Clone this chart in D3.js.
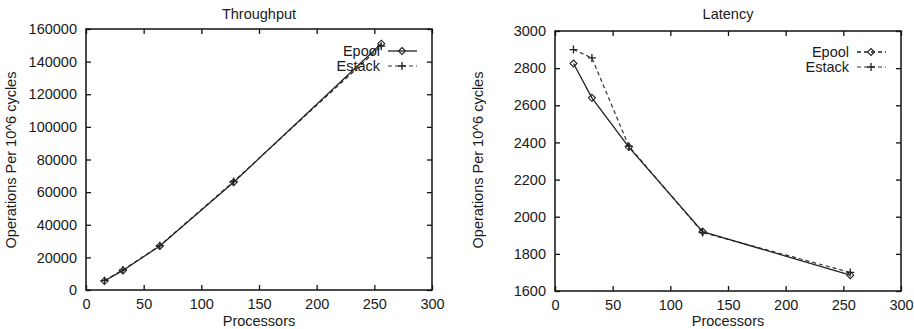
<!DOCTYPE html>
<html>
<head>
<meta charset="utf-8">
<script src="https://cdn.jsdelivr.net/npm/d3@7"></script>
<style>
  body { margin: 0; background: #fff; }
  svg text { font-family: "Liberation Sans", Arial, sans-serif; fill: #1a1a1a; }
</style>
</head>
<body>
<div id="chart"></div>
<script>
var processors = [16, 32, 64, 128, 256];
var tputEpool = [5500, 12000, 27000, 66000, 151000];
var tputEstack = [5800, 12300, 27200, 66500, 149500];
var latEpool = [2825, 2640, 2375, 1920, 1685];
var latEstack = [2900, 2855, 2380, 1915, 1700];

var xTicks = [0, 50, 100, 150, 200, 250, 300];
var tputTicks = [0, 20000, 40000, 60000, 80000, 100000, 120000, 140000, 160000];
var latTicks = [1600, 1800, 2000, 2200, 2400, 2600, 2800, 3000];

var w = 914, h = 329;
var svg = d3.select("#chart").append("svg")
  .attr("width", w)
  .attr("height", h);

function diamond(g, x, y) {
  g.append("path")
    .attr("d", "M" + x + "," + (y - 3.5) + "L" + (x + 3.5) + "," + y + "L" + x + "," + (y + 3.5) + "L" + (x - 3.5) + "," + y + "Z")
    .attr("fill", "none").attr("stroke", "#222").attr("stroke-width", 1.1);
}
function plus(g, x, y) {
  g.append("path")
    .attr("d", "M" + (x - 4) + "," + y + "H" + (x + 4) + "M" + x + "," + (y - 4) + "V" + (y + 4))
    .attr("stroke", "#222").attr("stroke-width", 1.3);
}

function panel(opt) {
  var g = svg.append("g");
  var x = d3.scaleLinear().domain([0, 300]).range([opt.left, opt.right]);
  var y = d3.scaleLinear().domain(opt.ydomain).range([opt.bottom, opt.top]);

  // frame
  g.append("rect")
    .attr("x", opt.left).attr("y", opt.top)
    .attr("width", opt.right - opt.left).attr("height", opt.bottom - opt.top)
    .attr("fill", "none").attr("stroke", "#111").attr("stroke-width", 1.5);

  // ticks inward, mirrored
  var xb = d3.axisBottom(x).tickValues(xTicks).tickSizeInner(-5).tickSizeOuter(0).tickPadding(9).tickFormat(d3.format("d"));
  var gx = g.append("g").attr("transform", "translate(0," + opt.bottom + ")").call(xb);
  var xt = d3.axisTop(x).tickValues(xTicks).tickSizeInner(-5).tickSizeOuter(0).tickFormat("");
  var gxt = g.append("g").attr("transform", "translate(0," + opt.top + ")").call(xt);
  var yl = d3.axisLeft(y).tickValues(opt.yticks).tickSizeInner(-5).tickSizeOuter(0).tickPadding(9).tickFormat(d3.format("d"));
  var gy = g.append("g").attr("transform", "translate(" + opt.left + ",0)").call(yl);
  var yr = d3.axisRight(y).tickValues(opt.yticks).tickSizeInner(-5).tickSizeOuter(0).tickFormat("");
  var gyr = g.append("g").attr("transform", "translate(" + opt.right + ",0)").call(yr);
  [gx, gxt, gy, gyr].forEach(function (a) {
    a.select(".domain").remove();
    a.selectAll("line").attr("stroke", "#111").attr("stroke-width", 1.3);
    a.selectAll("text").attr("font-size", 14.5).attr("font-family", "Liberation Sans, Arial, sans-serif").attr("fill", "#1a1a1a");
  });

  // title and labels
  g.append("text").attr("x", (opt.left + opt.right) / 2).attr("y", 19)
    .attr("text-anchor", "middle").attr("font-size", 14.5).text(opt.title);
  g.append("text").attr("x", (opt.left + opt.right) / 2).attr("y", 326)
    .attr("text-anchor", "middle").attr("font-size", 14.5).text("Processors");
  g.append("text")
    .attr("transform", "translate(" + opt.ylabelX + "," + 160 + ") rotate(-90)")
    .attr("text-anchor", "middle").attr("font-size", 14.5).text("Operations Per 10^6 cycles");

  var line = d3.line()
    .x(function (d) { return x(d[0]); })
    .y(function (d) { return y(d[1]); });

  var s1 = processors.map(function (p, i) { return [p, opt.s1[i]]; });
  var s2 = processors.map(function (p, i) { return [p, opt.s2[i]]; });

  g.append("path").datum(s2).attr("d", line)
    .attr("fill", "none").attr("stroke", "#333").attr("stroke-width", 1.2)
    .attr("stroke-dasharray", "4,3");
  g.append("path").datum(s1).attr("d", line)
    .attr("fill", "none").attr("stroke", "#222").attr("stroke-width", 1.3);

  s1.forEach(function (d) { diamond(g, x(d[0]), y(d[1])); });
  s2.forEach(function (d) { plus(g, x(d[0]), y(d[1])); });

  // legend
  var lx = opt.legendX;
  g.append("text").attr("x", lx).attr("y", opt.legendY + 5)
    .attr("text-anchor", "end").attr("font-size", 14.5).text("Epool");
  g.append("text").attr("x", lx).attr("y", opt.legendY + 20)
    .attr("text-anchor", "end").attr("font-size", 14.5).text("Estack");
  g.append("line").attr("x1", lx + 8).attr("x2", lx + 37)
    .attr("y1", opt.legendY).attr("y2", opt.legendY)
    .attr("stroke", "#222").attr("stroke-width", 1.3)
    .attr("stroke-dasharray", opt.legendDash1);
  diamond(g, lx + 22, opt.legendY);
  g.append("line").attr("x1", lx + 8).attr("x2", lx + 37)
    .attr("y1", opt.legendY + 15).attr("y2", opt.legendY + 15)
    .attr("stroke", "#333").attr("stroke-width", 1.2)
    .attr("stroke-dasharray", "4,3");
  plus(g, lx + 22, opt.legendY + 15);
}

panel({
  title: "Throughput", left: 86, right: 432, top: 29, bottom: 290,
  ydomain: [0, 160000], yticks: tputTicks, s1: tputEpool, s2: tputEstack,
  ylabelX: 16, legendX: 380, legendY: 51, legendDash1: null
});

panel({
  title: "Latency", left: 555, right: 901, top: 31, bottom: 291,
  ydomain: [1600, 3000], yticks: latTicks, s1: latEpool, s2: latEstack,
  ylabelX: 483, legendX: 849, legendY: 52, legendDash1: "4,3"
});
</script>
</body>
</html>
